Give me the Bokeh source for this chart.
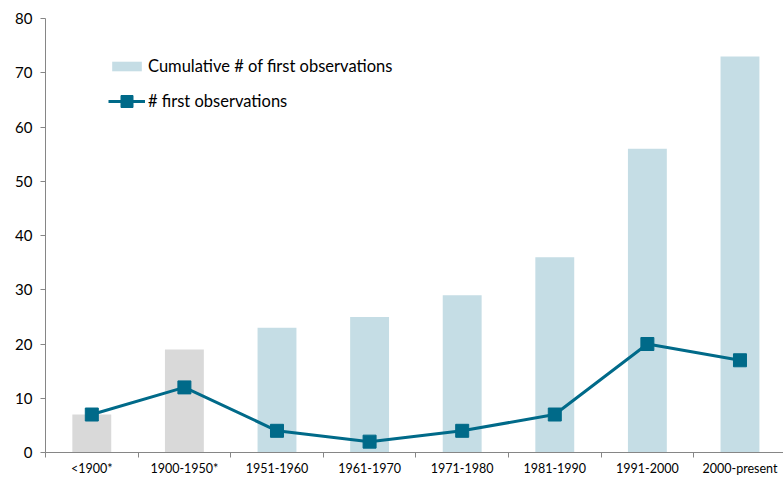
import numpy as np
from bokeh.plotting import figure
from bokeh.models import Range1d, FixedTicker, Legend, LegendItem, ColumnDataSource
from bokeh.embed import file_html
from bokeh.resources import INLINE

categories = ["<1900*", "1900-1950*", "1951-1960", "1961-1970",
              "1971-1980", "1981-1990", "1991-2000", "2000-present"]
cumulative = [7, 19, 23, 25, 29, 36, 56, 73]
first_obs = [7, 12, 4, 2, 4, 7, 20, 17]
y_ticks = [0, 10, 20, 30, 40, 50, 60, 70, 80]

GRAY = "#d9d9d9"
LIGHT = "#c5dde5"
DARK = "#006a89"
AXIS = "#868686"
FONT = "Lato"

xs = np.arange(len(categories)) + 0.5
src = ColumnDataSource(dict(
    x=xs, cum=cumulative, first=first_obs,
    color=[GRAY if "*" in c else LIGHT for c in categories],
))

p = figure(width=783, height=478, x_range=Range1d(0, 7.97), y_range=Range1d(0, 80),
           output_backend="svg", toolbar_location=None,
           min_border_left=45, min_border_right=0, min_border_top=18, min_border_bottom=0)
p.outline_line_color = None
p.xgrid.visible = False
p.ygrid.visible = False
p.background_fill_color = "white"
p.border_fill_color = "white"

bars = p.vbar(x="x", top="cum", width=0.42, bottom=0, source=src,
              fill_color="color", line_color=None)
line = p.line(x="x", y="first", source=src, line_color=DARK, line_width=3)
marks = p.scatter(x="x", y="first", source=src, marker="square", size=13,
                  fill_color=DARK, line_color=DARK)

# axes
xa = p.xaxis[0]
xa.ticker = FixedTicker(ticks=list(xs), minor_ticks=list(range(len(categories) + 1)))
xa.major_label_overrides = {float(x): c for x, c in zip(xs, categories)}
xa.major_tick_line_color = None
xa.minor_tick_line_color = AXIS
xa.minor_tick_out = 5
xa.minor_tick_in = 0
xa.axis_line_color = AXIS
xa.major_label_text_font = FONT
xa.major_label_text_font_size = "12.5px"
xa.major_label_text_color = "#000000"
xa.major_label_standoff = 2

ya = p.yaxis[0]
ya.ticker = FixedTicker(ticks=y_ticks)
ya.axis_line_color = AXIS
ya.major_tick_line_color = AXIS
ya.major_tick_out = 5
ya.major_tick_in = 0
ya.minor_tick_line_color = None
ya.major_label_text_font = FONT
ya.major_label_text_font_size = "15px"
ya.major_label_text_color = "#000000"
ya.major_label_standoff = 8

def mk_legend(items, loc, gh):
    lg = Legend(items=items, location=loc, glyph_width=37, glyph_height=gh,
                label_standoff=3, label_text_font=FONT, label_text_font_size="16.5px",
                label_text_color="#000000", border_line_color=None,
                background_fill_alpha=0, padding=0, margin=0, spacing=0,
                label_height=12)
    return lg

lg1 = mk_legend([LegendItem(label="Cumulative # of first observations", renderers=[bars], index=2)],
                (63, 376), 12)
lg2 = mk_legend([LegendItem(label="# first observations", renderers=[line, marks])],
                (63, 336), 30)
p.add_layout(lg1, "center")
p.add_layout(lg2, "center")

open("out.html", "w").write(file_html(p, INLINE))
